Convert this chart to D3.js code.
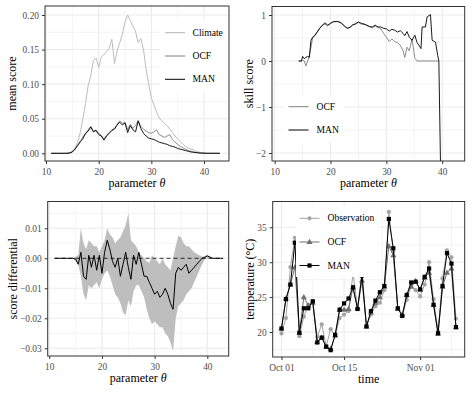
<!DOCTYPE html>
<html>
<head>
<meta charset="utf-8">
<script src="https://cdn.jsdelivr.net/npm/d3@7"></script>
<style>
body { margin: 0; background: #fff; }
</style>
</head>
<body>
<svg id="chart"></svg>
<script>
// ---- data: mean score vs parameter theta ----
var theta = [11, 11.5, 12, 12.5, 13, 13.5, 14, 14.5, 15, 15.5, 16, 16.5, 17, 17.5, 18, 18.5, 19, 19.5, 20, 20.5,
	21, 21.5, 22, 22.5, 23, 23.5, 24, 24.5, 25, 25.5, 26, 26.5, 27, 27.5, 28, 28.5, 29, 29.5, 30, 30.5,
	31, 31.5, 32, 32.5, 33, 33.5, 34, 34.5, 35, 35.5, 36, 36.5, 37, 37.5, 38, 38.5, 39, 39.5, 40, 40.5,
	41, 41.5, 42, 42.5, 43];
var climate = [0, 0, 0, 0, 0, 0, 0.0002, 0.0008, 0.003, 0.008, 0.016, 0.03, 0.05, 0.072, 0.098, 0.112, 0.134, 0.138, 0.124, 0.139,
	0.143, 0.147, 0.152, 0.165, 0.13, 0.148, 0.16, 0.172, 0.19, 0.2, 0.192, 0.184, 0.176, 0.16, 0.166, 0.15, 0.122, 0.1, 0.08, 0.07,
	0.06, 0.051, 0.047, 0.043, 0.04, 0.035, 0.03, 0.025, 0.021, 0.017, 0.013, 0.01, 0.008, 0.006, 0.005, 0.003, 0.002, 0.0012, 0.0007, 0.0003,
	0.0001, 0, 0, 0, 0];
var ocfMean = [0, 0, 0, 0, 0, 0, 0, 0.0005, 0.002, 0.006, 0.012, 0.016, 0.024, 0.028, 0.034, 0.039, 0.032, 0.034, 0.029, 0.026,
	0.021, 0.026, 0.03, 0.034, 0.036, 0.042, 0.047, 0.043, 0.045, 0.034, 0.042, 0.036, 0.04, 0.047, 0.039, 0.035, 0.032, 0.03, 0.029, 0.031,
	0.034, 0.027, 0.025, 0.023, 0.025, 0.027, 0.02, 0.016, 0.013, 0.01, 0.008, 0.006, 0.004, 0.003, 0.002, 0.0013, 0.0008, 0.0004, 0.0002, 0,
	0, 0, 0, 0, 0];
var manMean = [0, 0, 0, 0, 0, 0, 0, 0.0005, 0.002, 0.006, 0.011, 0.017, 0.021, 0.029, 0.032, 0.038, 0.031, 0.033, 0.027, 0.025,
	0.019, 0.025, 0.029, 0.033, 0.035, 0.041, 0.045, 0.041, 0.044, 0.03, 0.04, 0.034, 0.031, 0.047, 0.036, 0.029, 0.025, 0.022, 0.021, 0.02,
	0.018, 0.016, 0.015, 0.014, 0.013, 0.011, 0.01, 0.009, 0.007, 0.006, 0.005, 0.004, 0.003, 0.002, 0.0015, 0.001, 0.0006, 0.0003, 0.0001, 0,
	0, 0, 0, 0, 0];

// ---- data: skill score ----
var theta2 = [14.3, 14.8, 15.0, 15.3, 15.6, 15.9, 16.2, 16.5, 16.8, 17.2, 17.6, 18.0,
	18.5, 19, 19.5, 20, 20.5, 21, 21.5, 22, 22.5, 23, 23.5, 24, 24.5, 25, 25.5, 26, 26.5, 27, 27.5, 28, 28.5, 29, 29.5, 30, 30.5, 31, 31.5, 32, 32.5, 33,
	33.3, 33.7, 34.1, 34.6, 35.1, 35.5, 35.9, 36.2, 36.4, 37.0, 37.3, 37.9, 38.2, 38.8, 39.2, 39.4, 39.8];
var ocfSkill = [0, 0, 0.02, 0, -0.11, 0, 0.1, 0.3, 0.5, 0.55, 0.62, 0.7,
	0.78, 0.8, 0.76, 0.82, 0.86, 0.86, 0.86, 0.81, 0.76, 0.72, 0.74, 0.78, 0.8, 0.84, 0.8, 0.81, 0.77, 0.74, 0.72, 0.76, 0.73, 0.7, 0.6, 0.52, 0.42, 0.48, 0.42, 0.4, 0.34, 0.22,
	0.08, 0.3, 0.22, 0.48, 0.06, 0, 0, 0, 0, 0, 0, 0, 0, 0, 0, 0, null];
var manSkill = [0, 0, 0.1, 0.05, 0.08, 0.1, 0.08, 0.45, 0.52, 0.56, 0.63, 0.7,
	0.77, 0.83, 0.78, 0.82, 0.85, 0.86, 0.85, 0.82, 0.76, 0.71, 0.73, 0.79, 0.81, 0.85, 0.82, 0.8, 0.78, 0.75, 0.74, 0.78, 0.74, 0.74, 0.71, 0.7, 0.65, 0.69, 0.67, 0.63, 0.66, 0.6,
	0.55, 0.64, 0.52, 0.45, 0.56, 0.4, 0.33, 0.27, 0.74, 0.74, 0.96, 1.01, 0.45, 0.41, 0.12, 0, -3];

// ---- data: score differential (same theta grid) ----
var diffMean = [0, 0, 0, 0, 0, 0, 0, 0, -0.0003, -0.002, 0.002, -0.006, -0.007, 0.001, -0.003, 0.001, -0.004, 0.001, -0.005, 0.002,
	0.006, 0.003, -0.001, -0.003, 0, -0.006, -0.002, 0.002, -0.003, -0.007, 0.001, -0.002, 0.002, -0.002, -0.006, -0.006, -0.008, -0.01, -0.012, -0.011,
	-0.013, -0.012, -0.01, -0.012, -0.015, -0.017, -0.005, -0.003, -0.004, -0.003, -0.002, -0.005, -0.004, -0.003, -0.002, -0.001, 0, 0.0003, 0.0008, 0.0004,
	0, 0, 0, 0, 0];
var diffUpper = [0, 0, 0, 0, 0, 0, 0, 0, 0.0005, 0.001, 0.01, 0.005, 0.003, 0.006, 0.005, 0.004, 0.004, 0.002, 0.004, 0.006,
	0.01, 0.008, 0.007, 0.005, 0.006, 0.007, 0.009, 0.011, 0.015, 0.006, 0.005, 0.004, 0.002, 0.001, 0, -0.001, -0.0015, 0.001, 0, -0.001,
	-0.002, 0, -0.002, -0.003, -0.004, 0, 0.004, 0.0075, 0.007, 0.005, 0.004, 0.004, 0.003, 0.002, 0.0015, 0.001, 0.0005, 0.0008, 0.0012, 0.0005,
	0, 0, 0, 0, 0];
var diffLower = [0, 0, 0, 0, 0, 0, 0, 0, -0.001, -0.002, -0.006, -0.012, -0.014, -0.009, -0.01, -0.009, -0.008, -0.01, -0.007, -0.005,
	-0.004, -0.006, -0.009, -0.012, -0.013, -0.015, -0.018, -0.019, -0.014, -0.016, -0.011, -0.009, -0.009, -0.011, -0.013, -0.017, -0.02, -0.022, -0.021, -0.022,
	-0.023, -0.023, -0.025, -0.026, -0.028, -0.031, -0.02, -0.016, -0.015, -0.014, -0.012, -0.011, -0.01, -0.008, -0.006, -0.004, -0.002, -0.0005, 0, 0,
	0, 0, 0, 0, 0];

// ---- data: temperature series, Oct 01 - Nov 09 ----
var days = d3.utcDay.range(d3.isoParse("2020-10-01"), d3.isoParse("2020-11-10"));
var obsTemp = [19.8, 22.0, 29.3, 33.5, 19.4, 22.2, 23.9, 24.4, 19.3, 21.1, 18.0, 20.4, 19.4, 22.0, 22.5, 23.0, 28.4, 23.4, 28.7, 20.8,
	22.5, 23.7, 24.2, 26.0, 37.2, 31.5, 23.4, 22.4, 24.6, 26.6, 26.0, 25.1, 26.8, 30.0, 24.7, 20.1, 27.7, 31.7, 30.7, 21.9];
var ocfTemp = [20.5, 24.8, 26.8, 29.3, 19.9, 25.0, 23.8, 24.2, 18.6, 19.2, 17.9, 17.6, 19.5, 23.2, 23.2, 23.3, 26.4, 23.4, 27.4, 20.8,
	22.8, 24.2, 25.0, 26.5, 32.3, 31.0, 23.3, 22.5, 25.3, 26.5, 27.3, 26.1, 27.8, 28.5, 23.9, 19.8, 26.5, 28.5, 29.1, 20.7];
var manTemp = [20.5, 24.7, 26.8, 32.8, 19.9, 23.4, 23.4, 24.4, 18.5, 19.2, 17.9, 17.4, 19.6, 23.2, 24.1, 24.8, 26.4, 23.3, 28.1, 20.8,
	23.0, 24.5, 25.7, 26.6, 36.2, 32.0, 23.4, 22.3, 25.3, 27.1, 27.2, 26.1, 27.9, 29.1, 23.9, 19.8, 26.6, 31.3, 29.8, 20.7];

// ---- ticks ----
var thetaTicks = [10, 20, 30, 40];
var thetaMinor = [15, 25, 35];
var meanTicks = [0, 0.05, 0.1, 0.15, 0.2];
var meanMinor = [0.025, 0.075, 0.125, 0.175];
var skillTicks = [-2, -1, 0, 1];
var skillMinor = [-1.5, -0.5, 0.5];
var diffTicks = [-0.03, -0.02, -0.01, 0, 0.01];
var diffMinor = [-0.025, -0.015, -0.005, 0.005, 0.015];
var tempTicks = [20, 25, 30, 35];
var tempMinor = [17.5, 22.5, 27.5, 32.5];
var dateTicks = ["2020-10-01", "2020-10-15", "2020-11-01"].map(d3.isoParse);
var dateMinor = ["2020-10-08", "2020-10-23T12:00Z", "2020-11-08"].map(d3.isoParse);

var serif = "'Liberation Serif', 'DejaVu Serif', serif";
var w = 473;
var h = 394;
var svg = d3.select("#chart").attr("width", w).attr("height", h);
var clipId = 0;

function panel(p) {
	var x = p.xScale.range([p.left, p.right]);
	var y = p.yScale.range([p.bottom, p.top]);
	var g = svg.append("g");
	g.append("rect")
		.attr("x", p.left).attr("y", p.top)
		.attr("width", p.right - p.left).attr("height", p.bottom - p.top)
		.attr("fill", "white");
	g.selectAll(".xminor").data(p.xMinor).enter().append("line")
		.attr("x1", function (d) { return x(d); }).attr("x2", function (d) { return x(d); })
		.attr("y1", p.top).attr("y2", p.bottom)
		.attr("stroke", "#ebebeb").attr("stroke-width", 0.55);
	g.selectAll(".yminor").data(p.yMinor).enter().append("line")
		.attr("y1", function (d) { return y(d); }).attr("y2", function (d) { return y(d); })
		.attr("x1", p.left).attr("x2", p.right)
		.attr("stroke", "#ebebeb").attr("stroke-width", 0.55);
	g.selectAll(".xmajor").data(p.xTicks).enter().append("line")
		.attr("x1", function (d) { return x(d); }).attr("x2", function (d) { return x(d); })
		.attr("y1", p.top).attr("y2", p.bottom)
		.attr("stroke", "#ebebeb").attr("stroke-width", 1.1);
	g.selectAll(".ymajor").data(p.yTicks).enter().append("line")
		.attr("y1", function (d) { return y(d); }).attr("y2", function (d) { return y(d); })
		.attr("x1", p.left).attr("x2", p.right)
		.attr("stroke", "#ebebeb").attr("stroke-width", 1.1);

	clipId++;
	svg.append("clipPath").attr("id", "clip" + clipId)
		.append("rect")
		.attr("x", p.left).attr("y", p.top)
		.attr("width", p.right - p.left).attr("height", p.bottom - p.top);
	var plot = svg.append("g").attr("clip-path", "url(#clip" + clipId + ")");

	// axes
	var xAxis = d3.axisBottom(x).tickValues(p.xTicks).tickFormat(p.xFormat).tickSize(3).tickPadding(2.5);
	var yAxis = d3.axisLeft(y).tickValues(p.yTicks).tickFormat(p.yFormat).tickSize(3).tickPadding(3);
	var ax = svg.append("g").attr("transform", "translate(0," + p.bottom + ")").call(xAxis);
	var ay = svg.append("g").attr("transform", "translate(" + p.left + ",0)").call(yAxis);
	[ax, ay].forEach(function (a) {
		a.attr("font-family", serif);
		a.select(".domain").remove();
		a.selectAll(".tick line").attr("stroke", "#333333").attr("stroke-width", 1);
		a.selectAll(".tick text").attr("fill", "#4d4d4d").style("font-size", "9.4px");
	});
	ax.selectAll(".tick text").attr("dy", "0.95em");

	svg.append("text")
		.attr("x", (p.left + p.right) / 2).attr("y", p.bottom + 26)
		.attr("text-anchor", "middle").style("font-size", "12px")
		.html(p.xTitle);
	svg.append("text")
		.attr("transform", "translate(" + p.yTitleX + "," + (p.top + p.bottom) / 2 + ") rotate(-90)")
		.attr("text-anchor", "middle").style("font-size", "12px")
		.text(p.yTitle);

	return { x: x, y: y, plot: plot, p: p };
}

function border(pn) {
	var p = pn.p;
	svg.append("rect")
		.attr("x", p.left).attr("y", p.top)
		.attr("width", p.right - p.left).attr("height", p.bottom - p.top)
		.attr("fill", "none").attr("stroke", "#333333").attr("stroke-width", 1);
}

function legend(items, bx, by, bw, bh, kx, tx, rows) {
	svg.append("rect").attr("x", bx).attr("y", by).attr("width", bw).attr("height", bh).attr("fill", "white");
	items.forEach(function (it, i) {
		svg.append("line")
			.attr("x1", kx).attr("x2", kx + 20).attr("y1", rows[i]).attr("y2", rows[i])
			.attr("stroke", it.color).attr("stroke-width", it.width);
		if (it.shape) {
			marker(svg, it.shape, kx + 10, rows[i], it.color);
		}
		svg.append("text").attr("x", tx).attr("y", rows[i]).attr("dy", "0.33em")
			.style("font-size", "9.6px").attr("fill", "black").text(it.label);
	});
}

function marker(g, shape, cx, cy, color) {
	if (shape === "circle") {
		g.append("circle").attr("cx", cx).attr("cy", cy).attr("r", 2.1).attr("fill", color);
	} else if (shape === "triangle") {
		g.append("path").attr("d", d3.symbol(d3.symbolTriangle, 16)()).attr("transform", "translate(" + cx + "," + (cy + 0.3) + ")").attr("fill", color);
	} else {
		g.append("rect").attr("x", cx - 2.1).attr("y", cy - 2.1).attr("width", 4.2).attr("height", 4.2).attr("fill", color);
	}
}

var fmt2 = d3.format(".2f");
var fmtInt = d3.format("d");
var fmtDate = d3.utcFormat("%b %d");

var colClimate = "#b5b5b5";
var colOcf = "#7f7f7f";
var colMan = "#000000";

// ---- panel 1: mean score ----
var p1 = panel({
	left: 45, right: 229, top: 6, bottom: 161,
	xScale: d3.scaleLinear().domain([9.81, 44.74]),
	yScale: d3.scaleLinear().domain([-0.0111, 0.213]),
	xTicks: thetaTicks, xMinor: thetaMinor, yTicks: meanTicks, yMinor: meanMinor,
	xFormat: fmtInt, yFormat: fmt2,
	xTitle: "parameter <tspan font-style='italic'>θ</tspan>", yTitle: "mean score", yTitleX: 15.5
});
[[climate, colClimate], [ocfMean, colOcf], [manMean, colMan]].forEach(function (s) {
	var line = d3.line()
		.x(function (d, i) { return p1.x(theta[i]); })
		.y(function (d) { return p1.y(d); });
	p1.plot.append("path").datum(s[0])
		.attr("d", line).attr("fill", "none")
		.attr("stroke", s[1]).attr("stroke-width", 0.9);
});
legend([
	{ label: "Climate", color: colClimate, width: 1 },
	{ label: "OCF", color: colOcf, width: 1 },
	{ label: "MAN", color: colMan, width: 1 }
], 160, 21, 68, 70, 165, 192.5, [32.7, 56, 79.3]);
border(p1);

// ---- panel 2: skill score ----
var p2 = panel({
	left: 272, right: 464.7, top: 6.5, bottom: 161,
	xScale: d3.scaleLinear().domain([9.52, 44.03]),
	yScale: d3.scaleLinear().domain([-2.174, 1.185]),
	xTicks: thetaTicks, xMinor: thetaMinor, yTicks: skillTicks, yMinor: skillMinor,
	xFormat: fmtInt, yFormat: fmtInt,
	xTitle: "parameter <tspan font-style='italic'>θ</tspan>", yTitle: "skill score", yTitleX: 253
});
[[ocfSkill, colOcf], [manSkill, colMan]].forEach(function (s) {
	var line = d3.line()
		.defined(function (d) { return d !== null; })
		.x(function (d, i) { return p2.x(theta2[i]); })
		.y(function (d) { return p2.y(d); });
	p2.plot.append("path").datum(s[0])
		.attr("d", line).attr("fill", "none")
		.attr("stroke", s[1]).attr("stroke-width", 0.9);
});
legend([
	{ label: "OCF", color: colOcf, width: 1 },
	{ label: "MAN", color: colMan, width: 1 }
], 284, 95, 60, 47, 288.5, 316.5, [106.7, 130]);
border(p2);

// ---- panel 3: score differential ----
var p3 = panel({
	left: 47.7, right: 228.7, top: 201.5, bottom: 356,
	xScale: d3.scaleLinear().domain([9.7, 44.06]),
	yScale: d3.scaleLinear().domain([-0.03257, 0.01893]),
	xTicks: thetaTicks, xMinor: thetaMinor, yTicks: diffTicks, yMinor: diffMinor,
	xFormat: fmtInt, yFormat: fmt2,
	xTitle: "parameter <tspan font-style='italic'>θ</tspan>", yTitle: "score differential", yTitleX: 17
});
var area = d3.area()
	.x(function (d, i) { return p3.x(theta[i]); })
	.y0(function (d, i) { return p3.y(diffLower[i]); })
	.y1(function (d, i) { return p3.y(diffUpper[i]); });
p3.plot.append("path").datum(diffMean)
	.attr("d", area).attr("fill", "#bebebe").attr("stroke", "none");
p3.plot.append("line")
	.attr("x1", p3.x(d3.min(theta))).attr("x2", p3.x(d3.max(theta)))
	.attr("y1", p3.y(0)).attr("y2", p3.y(0))
	.attr("stroke", "black").attr("stroke-width", 0.8).attr("stroke-dasharray", "4,3");
p3.plot.append("path").datum(diffMean)
	.attr("d", d3.line()
		.x(function (d, i) { return p3.x(theta[i]); })
		.y(function (d) { return p3.y(d); }))
	.attr("fill", "none").attr("stroke", "black").attr("stroke-width", 1);
border(p3);

// ---- panel 4: temperature ----
var p4 = panel({
	left: 272.7, right: 464.7, top: 201.5, bottom: 357,
	xScale: d3.scaleUtc().domain([d3.utcHour.offset(days[0], -47), d3.utcHour.offset(days[days.length - 1], 47)]),
	yScale: d3.scaleLinear().domain([16.42, 38.7]),
	xTicks: dateTicks, xMinor: dateMinor, yTicks: tempTicks, yMinor: tempMinor,
	xFormat: fmtDate, yFormat: fmtInt,
	xTitle: "time", yTitle: "temperature (°C)", yTitleX: 254
});
var colObs = "#a3a3a3";
var colOcfT = "#6f6f6f";
[[obsTemp, colObs, "circle"], [ocfTemp, colOcfT, "triangle"], [manTemp, colMan, "square"]].forEach(function (s) {
	var line = d3.line()
		.x(function (d, i) { return p4.x(days[i]); })
		.y(function (d) { return p4.y(d); });
	p4.plot.append("path").datum(s[0])
		.attr("d", line).attr("fill", "none")
		.attr("stroke", s[1]).attr("stroke-width", 1);
	s[0].forEach(function (d, i) {
		marker(p4.plot, s[2], p4.x(days[i]), p4.y(d), s[1]);
	});
});
legend([
	{ label: "Observation", color: colObs, width: 1, shape: "circle" },
	{ label: "OCF", color: colOcfT, width: 1, shape: "triangle" },
	{ label: "MAN", color: colMan, width: 1, shape: "square" }
], 296, 207, 82, 70, 299.5, 327.5, [218.3, 242, 265.5]);
border(p4);

// serif type everywhere, like the LaTeX original
svg.selectAll("text").style("font-family", serif);
</script>
</body>
</html>
